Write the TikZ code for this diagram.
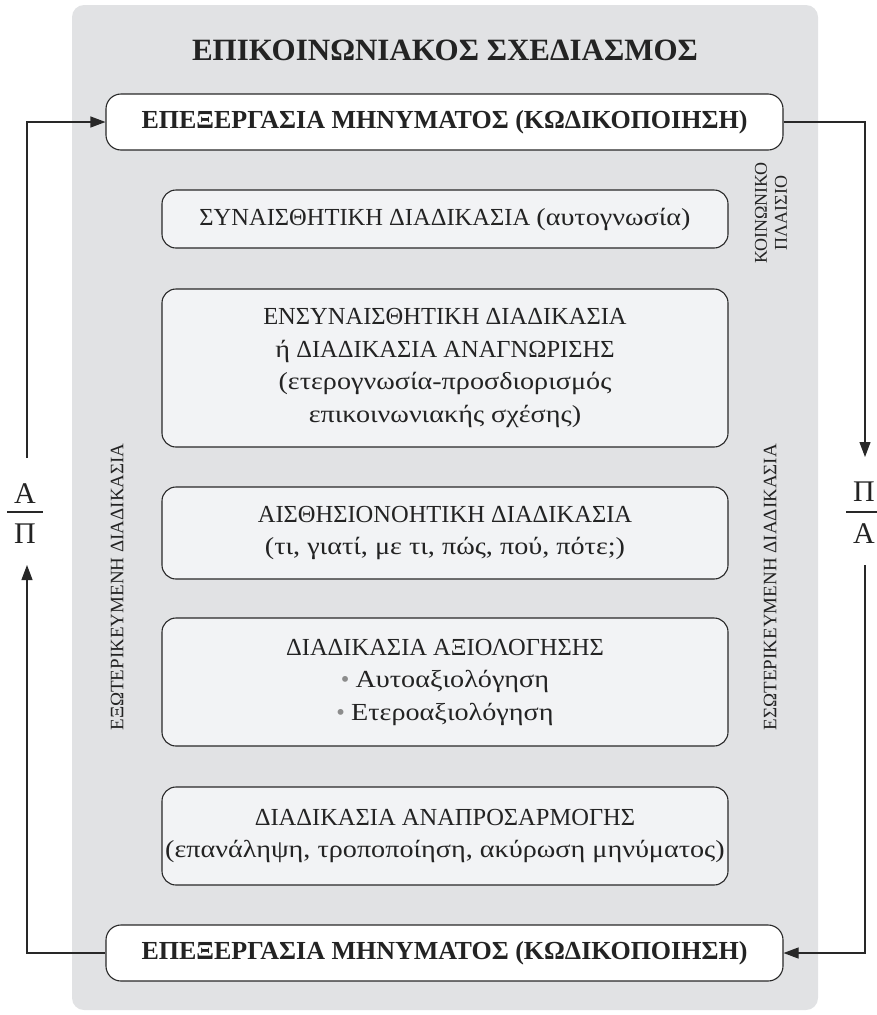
\documentclass[tikz,border=0pt]{standalone}
\usepackage{fontspec}
\setmainfont{Liberation Serif}
\newfontfamily\lcf[FakeStretch=1.15]{Liberation Serif}
\usetikzlibrary{arrows.meta,calc}
\definecolor{panelgray}{RGB}{225,226,228}
\definecolor{innerfill}{RGB}{242,243,245}
\definecolor{linegray}{RGB}{40,40,40}
\definecolor{txt}{RGB}{35,35,35}
\definecolor{bulletgray}{RGB}{140,140,140}
\begin{document}
\begin{tikzpicture}[x=1pt,y=-1pt,
  proc/.style={draw=linegray, line width=1.1pt, fill=innerfill, rounded corners=14pt,
    minimum width=566pt, align=center, text=txt, inner sep=0pt,
    font=\fontsize{24.5}{32.5}\selectfont},
  mainbox/.style={draw=linegray, line width=1.1pt, fill=white, rounded corners=15pt,
    minimum width=677pt, minimum height=56pt, inner sep=0pt, text=txt,
    font=\bfseries\fontsize{26}{30}\selectfont},
  titletext/.style={text=txt, font=\bfseries\fontsize{31}{36}\selectfont},
  side/.style={rotate=90, text=txt, align=center, font=\fontsize{19}{22}\selectfont},
  sidesmall/.style={rotate=90, text=txt, align=center, font=\fontsize{18}{20}\selectfont},
  fracglyph/.style={text=txt, anchor=base, inner sep=0pt, font=\fontsize{30}{34}\selectfont},
  fracbar/.style={draw=linegray, line width=1.3pt},
  arr/.style={draw=linegray, line width=1.1pt, -{Triangle[length=15pt,width=11pt]}}
]
\useasboundingbox (0,0) rectangle (876,1015);
\fill[panelgray, rounded corners=12pt] (72,5) rectangle (818,1010);

\node[titletext] (title) at (445,50) {ΕΠΙΚΟΙΝΩΝΙΑΚΟΣ ΣΧΕΔΙΑΣΜΟΣ};

\node[mainbox] (top) at (444.5,122) {ΕΠΕΞΕΡΓΑΣΙΑ ΜΗΝΥΜΑΤΟΣ (ΚΩΔΙΚΟΠΟΙΗΣΗ)};

\node[proc, minimum height=58pt] (b1) at (445,219) {ΣΥΝΑΙΣΘΗΤΙΚΗ ΔΙΑΔΙΚΑΣΙΑ {\lcf(αυτογνωσία)}};
\node[proc, minimum height=158pt] (b2) at (445,368) {ΕΝΣΥΝΑΙΣΘΗΤΙΚΗ ΔΙΑΔΙΚΑΣΙΑ\\{\lcf ή} ΔΙΑΔΙΚΑΣΙΑ ΑΝΑΓΝΩΡΙΣΗΣ\\{\lcf(ετερογνωσία-προσδιορισμός}\\{\lcf επικοινωνιακής σχέσης)}};
\node[proc, minimum height=92pt] (b3) at (445,533) {ΑΙΣΘΗΣΙΟΝΟΗΤΙΚΗ ΔΙΑΔΙΚΑΣΙΑ\\{\lcf(τι, γιατί, με τι, πώς, πού, πότε;)}};
\node[proc, minimum height=128pt] (b4) at (445,682) {ΔΙΑΔΙΚΑΣΙΑ ΑΞΙΟΛΟΓΗΣΗΣ\\{\color{bulletgray}•}\ {\lcf Αυτοαξιολόγηση}\\{\color{bulletgray}•}\ {\lcf Ετεροαξιολόγηση}};
\node[proc, minimum height=98pt] (b5) at (445,836) {ΔΙΑΔΙΚΑΣΙΑ ΑΝΑΠΡΟΣΑΡΜΟΓΗΣ\\{\lcf(επανάληψη, τροποποίηση, ακύρωση μηνύματος)}};

\node[mainbox] (bot) at (444.5,953) {ΕΠΕΞΕΡΓΑΣΙΑ ΜΗΝΥΜΑΤΟΣ (ΚΩΔΙΚΟΠΟΙΗΣΗ)};

\node[sidesmall] (koin) at (771,213) {ΚΟΙΝΩΝΙΚΟ\\ΠΛΑΙΣΙΟ};
\node[side] (exo) at (117,587) {ΕΞΩΤΕΡΙΚΕΥΜΕΝΗ ΔΙΑΔΙΚΑΣΙΑ};
\node[side] (eso) at (770,587) {ΕΣΩΤΕΡΙΚΕΥΜΕΝΗ ΔΙΑΔΙΚΑΣΙΑ};

% left fraction
\coordinate (fl) at (25,512);
\node[fracglyph] (flA) at (25,503) {Α};
\node[fracglyph] (flP) at (25,543) {Π};
\draw[fracbar] ([xshift=-18pt]fl) -- ([xshift=18pt]fl);
% right fraction
\coordinate (fr) at (864,512);
\node[fracglyph] (frP) at (864,501) {Π};
\node[fracglyph] (frA) at (864,543) {Α};
\draw[fracbar] ([xshift=-18pt]fr) -- ([xshift=18pt]fr);

% connectors
\coordinate (lUp) at (27,458);
\coordinate (lLow) at (27,565);
\coordinate (rUp) at (865,457);
\coordinate (rLow) at (865,565);
\draw[arr] (lUp) |- (top.west);
\draw[arr] (bot.west) -| (lLow);
\draw[arr] (top.east) -| (rUp);
\draw[arr] (rLow) |- (bot.east);
\end{tikzpicture}
\end{document}
